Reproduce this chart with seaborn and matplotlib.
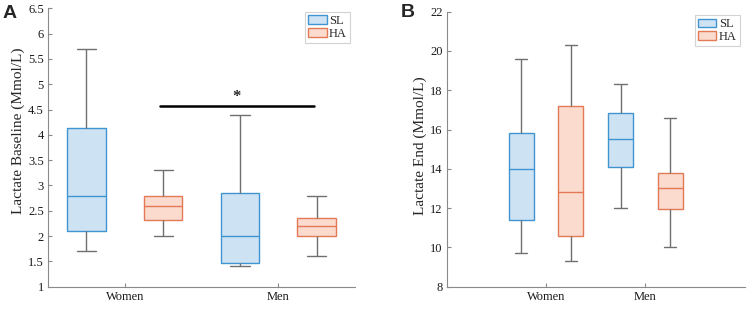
import numpy as np
import pandas as pd
import matplotlib.pyplot as plt
import seaborn as sns
from matplotlib.patches import Patch, PathPatch
from matplotlib.lines import Line2D

# box summaries: [min, q1, median, q3, max]
groups = ['Women', 'Men']
conditions = ['SL', 'HA']

baseline_sl = {'Women': [1.7, 2.1, 2.8, 4.13, 5.7], 'Men': [1.4, 1.47, 2.0, 2.85, 4.4]}
baseline_ha = {'Women': [2.0, 2.32, 2.6, 2.8, 3.3], 'Men': [1.6, 2.0, 2.2, 2.35, 2.8]}
end_sl = {'Women': [9.7, 11.4, 14.0, 15.8, 19.6], 'Men': [12.0, 14.08, 15.5, 16.83, 18.3]}
end_ha = {'Women': [9.3, 10.6, 12.8, 17.2, 20.3], 'Men': [10.0, 11.97, 13.0, 13.8, 16.6]}

baseline_ticks = [1, 1.5, 2, 2.5, 3, 3.5, 4, 4.5, 5, 5.5, 6, 6.5]
baseline_ticklabels = ['1', '1.5', '2', '2.5', '3', '3.5', '4', '4.5', '5', '5.5', '6', '6.5']
end_ticks = [8, 10, 12, 14, 16, 18, 20, 22]

# significance bar in panel A (Women HA vs Men HA)
sig_x = [0.23, 1.23]
sig_y = 4.56

fill = {'SL': '#cde3f4', 'HA': '#fadbce'}
edge = {'SL': '#3f94d1', 'HA': '#e37a55'}
whisker_col = '#707070'


def to_long(sl, ha):
    rows = []
    for cond, d in (('SL', sl), ('HA', ha)):
        for g in groups:
            for v in d[g]:
                rows.append({'group': g, 'cond': cond, 'value': v})
    return pd.DataFrame(rows)


sns.set_style('ticks')
plt.rcParams['font.family'] = ['Liberation Serif', 'DejaVu Serif']
plt.rcParams['xtick.direction'] = 'in'
plt.rcParams['ytick.direction'] = 'in'

fig = plt.figure(figsize=(7.47, 3.09), dpi=100)
axA = fig.add_axes([0.0643, 0.0722, 0.411, 0.901])
axB = fig.add_axes([0.598, 0.0722, 0.399, 0.890])


def draw(ax, df):
    sns.boxplot(data=df, x='group', y='value', hue='cond', order=groups,
                hue_order=conditions, palette=fill, saturation=1,
                whis=np.inf, width=1.0, gap=0.5, linecolor=whisker_col,
                linewidth=1.0, legend=False, ax=ax)
    # boxes and medians take the condition colour, whiskers stay grey
    for p in ax.patches:
        if isinstance(p, PathPatch):
            xs = p.get_path().vertices[:, 0]
            cond = 'SL' if xs.mean() - round(xs.mean()) < 0 else 'HA'
            p.set_edgecolor(edge[cond])
    for ln in ax.lines:
        x = np.asarray(ln.get_xdata(), dtype=float)
        y = np.asarray(ln.get_ydata(), dtype=float)
        if len(x) == 2 and y[0] == y[1] and abs(x[1] - x[0]) > 0.2:
            cond = 'SL' if x.mean() - round(x.mean()) < 0 else 'HA'
            ln.set_color(edge[cond])
    ax.set_xlabel('')
    for s in ['top', 'right']:
        ax.spines[s].set_visible(False)
    for s in ['left', 'bottom']:
        ax.spines[s].set_color('#8a8a8a')
        ax.spines[s].set_linewidth(0.8)
    ax.tick_params(axis='both', colors='#8a8a8a', labelcolor='#1a1a1a',
                   labelsize=9, length=3, width=0.8, pad=3)
    handles = [Patch(facecolor=fill[c], edgecolor=edge[c], label=c) for c in conditions]
    leg = ax.legend(handles=handles, loc='upper right', bbox_to_anchor=(0.984, 0.987),
                    fontsize=9, frameon=True, fancybox=False, handlelength=1.5,
                    handleheight=0.7, handletextpad=0.2, labelspacing=0.05,
                    borderpad=0.25, borderaxespad=0)
    leg.get_frame().set_edgecolor('#c8c8c8')
    leg.get_frame().set_linewidth(0.8)


draw(axA, to_long(baseline_sl, baseline_ha))
axA.set_xlim(-0.5, 1.5)
axA.set_ylim(1, 6.5)
axA.set_yticks(baseline_ticks, baseline_ticklabels)
axA.set_ylabel('Lactate Baseline (Mmol/L)', fontsize=11)
axA.yaxis.set_label_coords(-0.075, 0.56)
axA.plot(sig_x, [sig_y, sig_y], color='black', lw=1.8)
axA.text(np.mean(sig_x), sig_y + 0.02, '*', ha='center', va='bottom',
         fontsize=12, fontweight='bold')

draw(axB, to_long(end_sl, end_ha))
axB.set_xlim(-1, 2)
axB.set_ylim(8, 22)
axB.set_yticks(end_ticks)
axB.set_ylabel('Lactate End (Mmol/L)', fontsize=11)
axB.yaxis.set_label_coords(-0.066, 0.512)

fig.text(3 / 747, 1 - 5 / 309, 'A', fontsize=14, fontweight='bold',
         family=['Liberation Sans', 'DejaVu Sans'], ha='left', va='top')
fig.text(401 / 747, 1 - 4 / 309, 'B', fontsize=14, fontweight='bold',
         family=['Liberation Sans', 'DejaVu Sans'], ha='left', va='top')

fig.savefig('out.png', dpi=100)
